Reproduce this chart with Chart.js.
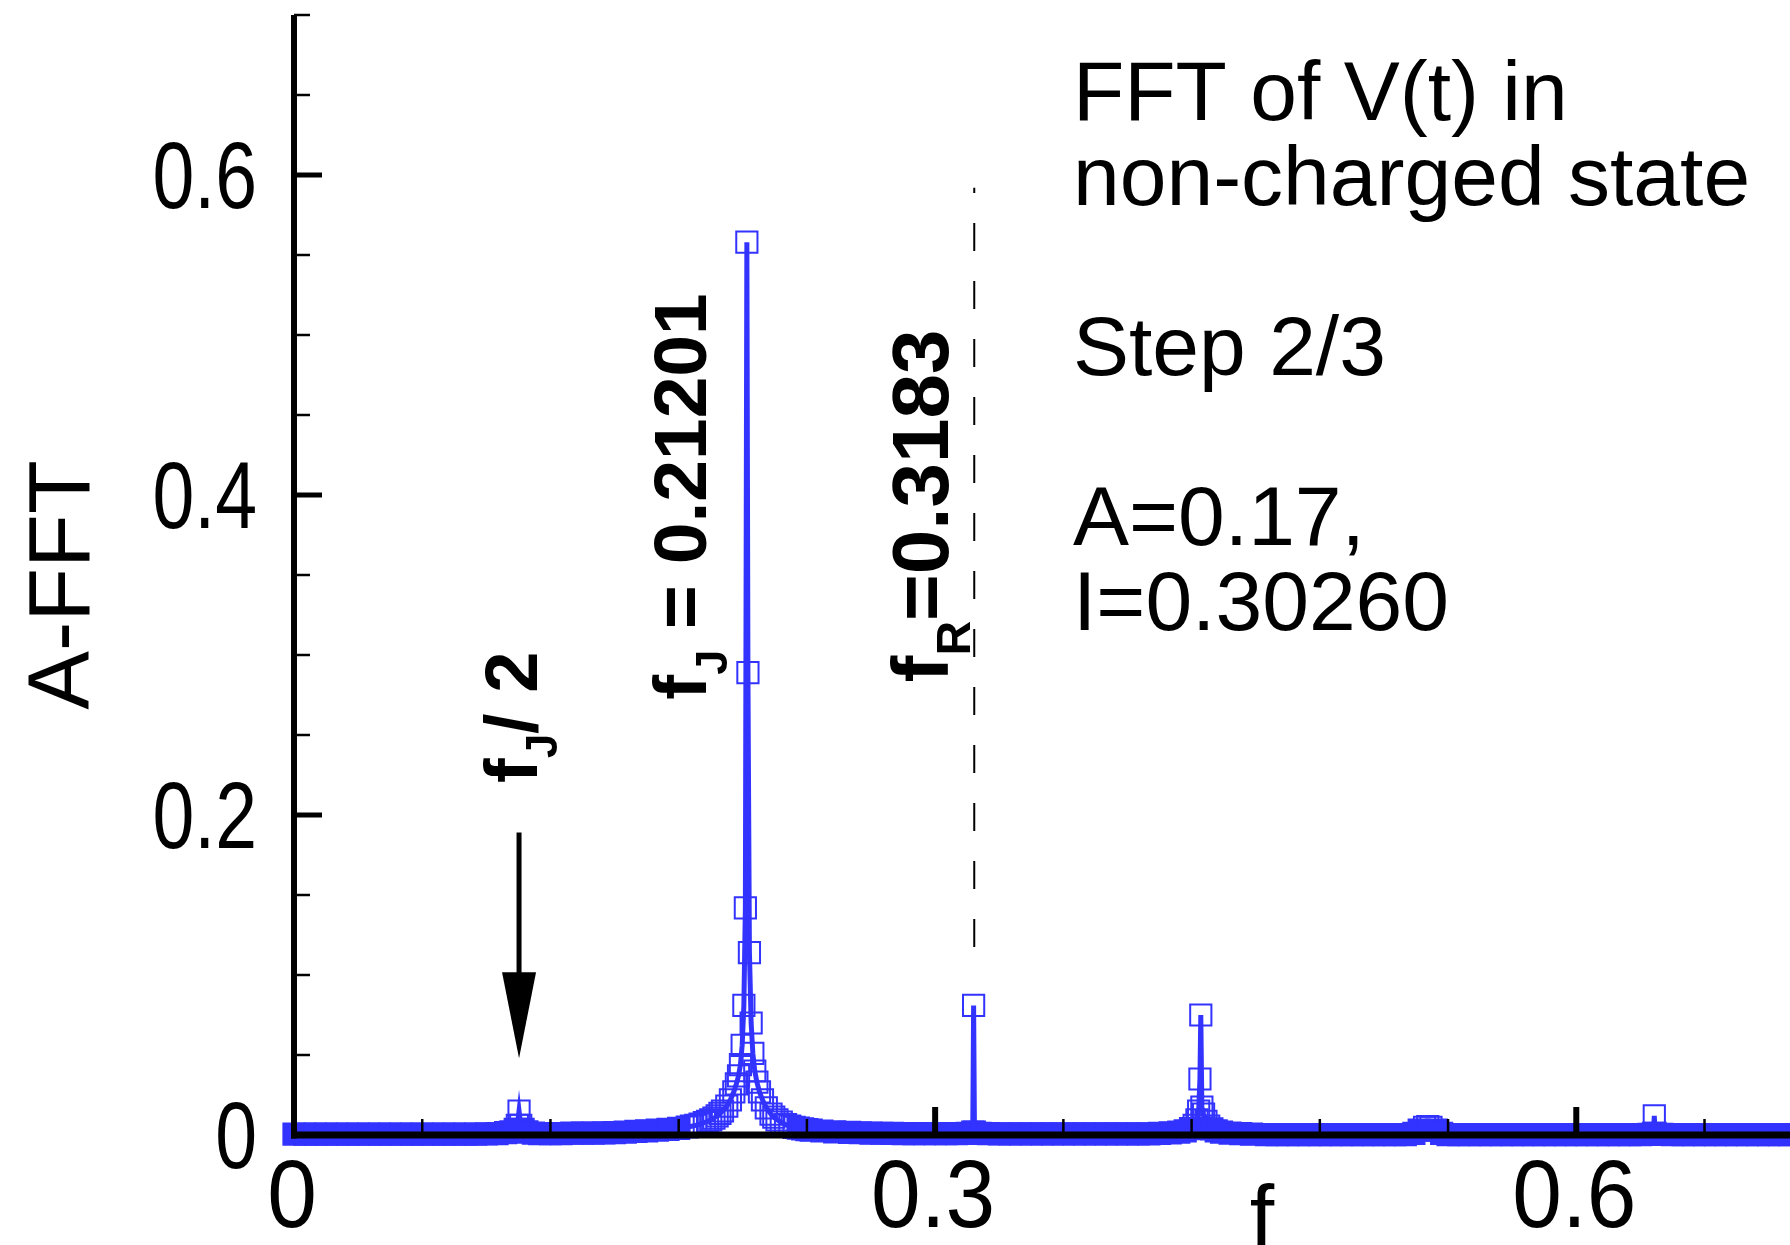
<!DOCTYPE html>
<html>
<head>
<meta charset="utf-8">
<script src="https://cdn.jsdelivr.net/npm/chart.js@4.4.0/dist/chart.umd.min.js"></script>
<style>
  html, body { margin: 0; padding: 0; background: #fff; overflow: hidden; }
  #wrap { width: 1790px; height: 1245px; position: relative; }
</style>
</head>
<body>
<div id="wrap"><canvas id="fftChart" width="1790" height="1245"></canvas></div>
<script>
// FFT de V(t) - estado no cargado, paso 2/3

const BLUE = '#3333ff';
const FONT = '"Liberation Sans", Arial, Helvetica, sans-serif';
const FILL_LIMIT = 0.0045; // marcadores densos cerca de cero se ven rellenos

// frecuencia f
const freq = [
  0.000, 0.005, 0.010, 0.015, 0.020, 0.025, 0.030, 0.035, 0.040, 0.045,
  0.050, 0.055, 0.060, 0.065, 0.070, 0.075, 0.080, 0.085, 0.090, 0.095,
  0.099, 0.1015, 0.1035, 0.1045, 0.1053, 0.1061, 0.1072, 0.1090, 0.1120, 0.1150,
  0.120, 0.125, 0.130, 0.135, 0.140, 0.145, 0.150, 0.155, 0.160, 0.165,
  0.170, 0.175, 0.180, 0.184, 0.186, 0.188, 0.190, 0.192, 0.1935, 0.195,
  0.1965, 0.198, 0.1993, 0.2005, 0.2025, 0.2042, 0.2058, 0.2070, 0.2080, 0.2089,
  0.2097, 0.2105, 0.2112, 0.2119, 0.2124, 0.2131, 0.2139, 0.2147, 0.2156, 0.2166,
  0.2178, 0.2192, 0.2210, 0.2232, 0.2245, 0.2260, 0.228, 0.230, 0.232, 0.234,
  0.236, 0.238, 0.240, 0.242, 0.247, 0.253, 0.260, 0.265, 0.270, 0.275,
  0.280, 0.285, 0.290, 0.295, 0.300, 0.305, 0.310, 0.315, 0.3176, 0.3180,
  0.3184, 0.321, 0.325, 0.330, 0.335, 0.340, 0.345, 0.350, 0.355, 0.360,
  0.365, 0.370, 0.375, 0.380, 0.385, 0.390, 0.395, 0.400, 0.405, 0.410,
  0.414, 0.417, 0.4195, 0.4212, 0.4225, 0.4233, 0.4239, 0.4243, 0.4248, 0.4256,
  0.4267, 0.4280, 0.4295, 0.4315, 0.434, 0.438, 0.443, 0.448, 0.455, 0.460,
  0.465, 0.470, 0.475, 0.480, 0.485, 0.490, 0.495, 0.500, 0.505, 0.510,
  0.515, 0.520, 0.524, 0.5265, 0.529, 0.5305, 0.532, 0.5345, 0.537, 0.540,
  0.545, 0.550, 0.555, 0.560, 0.565, 0.570, 0.575, 0.580, 0.585, 0.590,
  0.595, 0.600, 0.605, 0.610, 0.615, 0.620, 0.625, 0.630, 0.634, 0.6361,
  0.6365, 0.6369, 0.640, 0.645, 0.650, 0.655, 0.660, 0.665, 0.670, 0.675,
  0.680, 0.685, 0.690, 0.695, 0.700
];

// amplitud A-FFT
const amp = [
  0.0006, 0.0006, 0.0006, 0.0006, 0.0006, 0.0006, 0.0006, 0.0006, 0.0006, 0.0006,
  0.0006, 0.0006, 0.0006, 0.0006, 0.0006, 0.0006, 0.0006, 0.0006, 0.0007, 0.0008,
  0.0015, 0.0020, 0.0035, 0.0060, 0.0150, 0.0060, 0.0035, 0.0020, 0.0012, 0.0008,
  0.0008, 0.0009, 0.0012, 0.0012, 0.0012, 0.0013, 0.0015, 0.0018, 0.0022, 0.0026,
  0.0030, 0.0035, 0.0042, 0.0050, 0.0055, 0.0060, 0.0068, 0.0078, 0.0085, 0.0095,
  0.0105, 0.0120, 0.0135, 0.0150, 0.0180, 0.0220, 0.0270, 0.0320, 0.0370, 0.0440,
  0.0560, 0.0810, 0.1420, 0.5580, 0.2890, 0.1140, 0.0700, 0.0510, 0.0400, 0.0330,
  0.0270, 0.0220, 0.0170, 0.0130, 0.0112, 0.0095, 0.0080, 0.0065, 0.0056, 0.0048,
  0.0043, 0.0038, 0.0034, 0.0030, 0.0025, 0.0020, 0.0016, 0.0014, 0.0012, 0.0011,
  0.0010, 0.0009, 0.0008, 0.0008, 0.0008, 0.0008, 0.0008, 0.0010, 0.0018, 0.0810,
  0.0018, 0.0010, 0.0008, 0.0007, 0.0007, 0.0007, 0.0007, 0.0007, 0.0007, 0.0007,
  0.0007, 0.0007, 0.0007, 0.0007, 0.0007, 0.0007, 0.0007, 0.0007, 0.0010, 0.0013,
  0.0018, 0.0026, 0.0040, 0.0060, 0.0095, 0.0150, 0.0350, 0.0750, 0.0175, 0.0130,
  0.0085, 0.0055, 0.0038, 0.0026, 0.0018, 0.0012, 0.0008, 0.0005, 0.0003, 0.0003,
  0.0003, 0.0003, 0.0003, 0.0003, 0.0003, 0.0003, 0.0003, 0.0003, 0.0003, 0.0003,
  0.0003, 0.0003, 0.0010, 0.0030, 0.0048, 0.0052, 0.0048, 0.0030, 0.0010, 0.0003,
  0.0003, 0.0003, 0.0003, 0.0003, 0.0003, 0.0003, 0.0003, 0.0003, 0.0003, 0.0003,
  0.0003, 0.0003, 0.0003, 0.0003, 0.0003, 0.0003, 0.0003, 0.0003, 0.0004, 0.0010,
  0.0120, 0.0010, 0.0004, 0.0002, 0.0002, 0.0002, 0.0002, 0.0002, 0.0002, 0.0002,
  0.0002, 0.0002, 0.0002, 0.0002, 0.0002
];

// linea discontinua en f_R
const fR = 0.3183;
const fRSpan = [0.1175, 0.592];

// ejes
const xMajorTicks = [0, 0.3, 0.6];
const xTickLabels = ['0', '0.3', '0.6'];
const xMinorTicks = [0.06, 0.12, 0.18, 0.24, 0.36, 0.42, 0.48, 0.54, 0.66];
const yMajorTicks = [0, 0.2, 0.4, 0.6];
const yTickLabels = ['0', '0.2', '0.4', '0.6'];
const yMinorTicks = [0.05, 0.1, 0.15, 0.25, 0.3, 0.35, 0.45, 0.5, 0.55, 0.65, 0.7];

// textos
const noteLines = ['FFT of V(t) in', 'non-charged state', '', 'Step 2/3', '', 'A=0.17,', 'I=0.30260'];
const peakLabels = [
  { f: 0.1137, a: 0.220, size: 74, parts: [['f'], ['J', true], ['/ 2']] },
  { f: 0.1930, a: 0.272, size: 75, parts: [['f'], ['J', true], [' = 0.21201']] },
  { f: 0.3060, a: 0.283, size: 80, parts: [['f'], ['R', true], ['=0.3183']] }
];
const arrowF = 0.1053;
const arrowFrom = 0.189;
const arrowTo = 0.048;

const points = freq.map((f, i) => ({ x: f, y: amp[i] }));
const pointFill = amp.map(a => a <= FILL_LIMIT ? BLUE : 'rgba(0,0,0,0)');

function drawRotated(ctx, px, py, parts, size) {
  ctx.save();
  ctx.translate(px, py);
  ctx.rotate(-Math.PI / 2);
  ctx.textAlign = 'left';
  ctx.textBaseline = 'alphabetic';
  let cx = 0;
  for (const [t, sub] of parts) {
    const fs = sub ? Math.round(size * 0.6) : size;
    ctx.font = `bold ${fs}px ${FONT}`;
    ctx.fillText(t, cx, sub ? size * 0.27 : 0);
    cx += ctx.measureText(t).width;
  }
  ctx.restore();
}

// texto estrecho como en la figura original
function drawNarrow(ctx, t, px, py, size, sx, align) {
  ctx.save();
  ctx.translate(px, py);
  ctx.scale(sx, 1);
  ctx.font = `${size}px ${FONT}`;
  ctx.textAlign = align;
  ctx.textBaseline = 'alphabetic';
  ctx.fillText(t, 0, 0);
  ctx.restore();
}

const decor = {
  id: 'decor',
  afterDraw(chart) {
    const { ctx, chartArea } = chart;
    const x = chart.scales.x, y = chart.scales.y;
    const x0 = x.getPixelForValue(0), y0 = y.getPixelForValue(0);
    ctx.save();
    ctx.strokeStyle = '#000';
    ctx.fillStyle = '#000';
    ctx.lineCap = 'butt';

    const seg = (x1, y1, x2, y2, w) => {
      ctx.lineWidth = w;
      ctx.beginPath(); ctx.moveTo(x1, y1); ctx.lineTo(x2, y2); ctx.stroke();
    };

    // ejes encima de la serie
    seg(x0, chartArea.top, x0, y0 + 3.5, 6);
    seg(x0 - 3, y0, chartArea.right, y0, 7);

    // marcas hacia dentro
    xMajorTicks.forEach(v => { const p = x.getPixelForValue(v); seg(p, y0, p, y0 - 28, 6); });
    xMinorTicks.forEach(v => { const p = x.getPixelForValue(v); seg(p, y0, p, y0 - 16, 2.5); });
    yMajorTicks.forEach(v => { const p = y.getPixelForValue(v); seg(x0, p, x0 + 28, p, 5); });
    yMinorTicks.forEach(v => { const p = y.getPixelForValue(v); seg(x0, p, x0 + 16, p, 2.5); });

    // etiquetas de marcas
    yMajorTicks.forEach((v, i) => drawNarrow(ctx, yTickLabels[i], 257, y.getPixelForValue(v) + 33, 94, 0.8, 'right'));
    xMajorTicks.forEach((v, i) => drawNarrow(ctx, xTickLabels[i], x.getPixelForValue(v) - 2, 1227, 96, 0.93, 'center'));

    // flecha f_J/2
    const ax = x.getPixelForValue(arrowF);
    const aTop = y.getPixelForValue(arrowFrom);
    const aTip = y.getPixelForValue(arrowTo);
    const headLen = 86, headHalf = 17;
    seg(ax, aTop, ax, aTip - headLen + 2, 5);
    ctx.beginPath();
    ctx.moveTo(ax - headHalf, aTip - headLen);
    ctx.lineTo(ax + headHalf, aTip - headLen);
    ctx.lineTo(ax, aTip);
    ctx.closePath();
    ctx.fill();

    // etiquetas de picos
    peakLabels.forEach(l => drawRotated(ctx, x.getPixelForValue(l.f), y.getPixelForValue(l.a), l.parts, l.size));

    // titulos de ejes
    ctx.font = `88px ${FONT}`;
    ctx.textAlign = 'center';
    ctx.textBaseline = 'alphabetic';
    ctx.save();
    ctx.translate(89, 585);
    ctx.rotate(-Math.PI / 2);
    ctx.fillText('A-FFT', 0, 0);
    ctx.restore();
    ctx.fillText('f', 1262, 1246);

    // bloque de texto
    ctx.font = `84px ${FONT}`;
    ctx.textAlign = 'left';
    noteLines.forEach((t, i) => { if (t) ctx.fillText(t, 1073, 120 + i * 85); });
    ctx.restore();
  }
};

const ctx = document.getElementById('fftChart').getContext('2d');
new Chart(ctx, {
  type: 'line',
  data: {
    datasets: [{
      label: 'A-FFT',
      data: points,
      borderColor: BLUE,
      borderWidth: 5,
      tension: 0,
      pointStyle: 'rect',
      pointRadius: 15,
      pointBorderWidth: 2,
      pointBorderColor: BLUE,
      pointBackgroundColor: pointFill,
      clip: false
    }, {
      label: 'fR',
      data: [{ x: fR, y: fRSpan[0] }, { x: fR, y: fRSpan[1] }],
      borderColor: '#000',
      borderWidth: 2,
      borderDash: [28, 30],
      pointRadius: 0,
      clip: false
    }]
  },
  options: {
    responsive: false,
    animation: false,
    devicePixelRatio: 1,
    layout: { autoPadding: false, padding: { top: 15, right: 0, bottom: 0, left: 0 } },
    plugins: { legend: { display: false }, tooltip: { enabled: false } },
    events: [],
    scales: {
      x: {
        type: 'linear', min: 0, max: 0.7,
        grid: { display: false },
        border: { display: false },
        ticks: { display: false },
        afterFit: s => { s.height = 110; s.paddingLeft = 0; s.paddingRight = 0; }
      },
      y: {
        type: 'linear', min: 0, max: 0.7,
        grid: { display: false },
        border: { display: false },
        ticks: { display: false },
        afterFit: s => { s.width = 294; s.paddingTop = 0; s.paddingBottom = 0; }
      }
    }
  },
  plugins: [decor]
});
</script>
</body>
</html>
